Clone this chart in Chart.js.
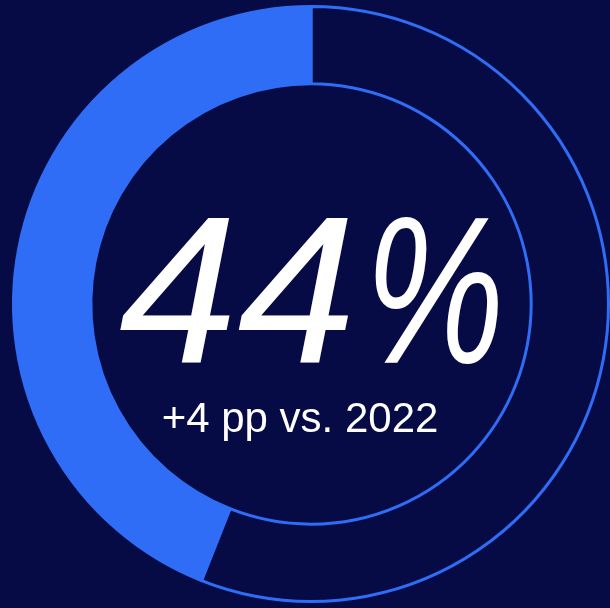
<!DOCTYPE html>
<html>
<head>
<meta charset="utf-8">
<script src="https://cdn.jsdelivr.net/npm/chart.js@4/dist/chart.umd.min.js"></script>
<style>
  html, body { margin: 0; padding: 0; background: #070b45; }
  #wrap { width: 610px; height: 608px; position: relative; }
</style>
</head>
<body>
<div id="wrap"><canvas id="myChart"></canvas></div>
<script>
// share value and the rest of the ring
const labels = ['Rest', 'Share'];
const values = [56, 44];
const headline = '44';
const unit = '%';
const subline = '+4 pp vs. 2022';

const navy = '#070b45';
const blue = '#2f6df6';

// fit a string between two x positions, by its inked extent
function fitText(ctx, str, x0, x1, y) {
  const m = ctx.measureText(str);
  const inked = m.actualBoundingBoxLeft + m.actualBoundingBoxRight;
  const s = (x1 - x0) / inked;
  ctx.save();
  ctx.translate(x0, y);
  ctx.scale(s, 1);
  ctx.textAlign = 'left';
  ctx.fillText(str, m.actualBoundingBoxLeft, 0);
  ctx.restore();
}

// big number and comparison line in the hole
const centerText = {
  id: 'centerText',
  afterDraw(chart) {
    const ctx = chart.ctx;
    const arc = chart.getDatasetMeta(0).data[0];
    const cx = arc.x, cy = arc.y;
    ctx.save();
    ctx.fillStyle = '#ffffff';
    ctx.textBaseline = 'alphabetic';
    ctx.font = 'italic 210px "Liberation Sans", Arial, sans-serif';
    fitText(ctx, headline, cx - 191, cx + 37, cy + 59);
    fitText(ctx, unit, cx + 64, cx + 187, cy + 59);
    ctx.textAlign = 'center';
    ctx.font = '42px "Liberation Sans", Arial, sans-serif';
    ctx.fillText(subline, cx - 11, cy + 128);
    ctx.restore();
  }
};

const ctx = document.getElementById('myChart').getContext('2d');

const myChart = new Chart(ctx, {
  type: 'doughnut',
  data: {
    labels: labels,
    datasets: [{
      data: values,
      backgroundColor: [navy, blue],
      borderColor: blue,
      borderWidth: 3,
      hoverOffset: 0
    }]
  },
  options: {
    responsive: true,
    maintainAspectRatio: false,
    animation: false,
    cutout: '74%',
    layout: {
      padding: { left: 12, right: 0, top: 4, bottom: 4 }
    },
    plugins: {
      legend: { display: false },
      tooltip: { enabled: false }
    }
  },
  plugins: [centerText]
});
</script>
</body>
</html>
